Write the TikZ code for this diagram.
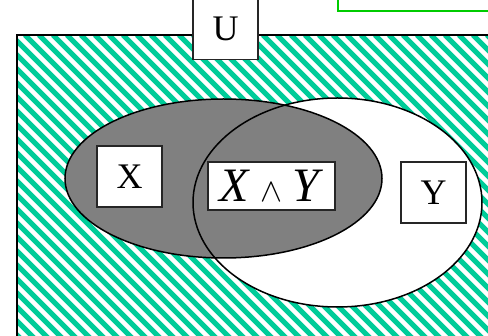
\documentclass[tikz,border=0pt]{standalone}
\usepackage{fix-cm}
\usepackage{fontspec}
\setmainfont{Liberation Serif}
\usepackage{tikz}
\usetikzlibrary{positioning}
\definecolor{hatchgreen}{RGB}{0,204,153}
\definecolor{boxgreen}{RGB}{0,204,0}
\tikzset{
  setbox/.style={draw=black!85, line width=1.3pt, fill=white, inner sep=0pt, font=\fontsize{36}{38}\selectfont},
  setline/.style={draw=black, line width=1.5pt},
  hatchline/.style={hatchgreen, line width=5pt}
}
\begin{document}
\begin{tikzpicture}[x=1pt, y=-1pt]
            % picture frame (pixels, y down)
            \useasboundingbox (0,0) rectangle (488,336);
            \clip (0,0) rectangle (488,336);
            \fill[white] (0,0) rectangle (488,336);

            % --- UNIVERSE ---
            % hatched area
            \begin{scope}
              \clip (17,35) rectangle (495,345);
              \foreach \c in {-437,-423,...,501}
                \draw[hatchline] (\c,35) -- ++(330,330);
            \end{scope}
            \draw[setline] (17,345) -- (17,35) -- (495,35);

            % --- SETS ---
            % Y first, then X on top of it
            \fill[white] (337.5,202.5) ellipse (144.5 and 104.5);
            \fill[gray] (223.5,178.5) ellipse (158.5 and 79.5);
            \draw[setline] (223.5,178.5) ellipse (158.5 and 79.5);
            \draw[setline] (337.5,202.5) ellipse (144.5 and 104.5);

            % Labels
            \node[setbox, minimum width=65pt, minimum height=62pt] (u) at (225.5,28.5) {U};
            \node[setbox, minimum width=65pt, minimum height=61pt] (x) at (129.5,176.5) {X};
            \node[setbox, minimum width=65pt, minimum height=61pt] (y) at (433.5,192.5) {Y};
            \node[setbox, minimum width=127pt, minimum height=48pt,
                  font=\fontsize{48}{50}\selectfont] (xy) at (271.5,186)
                  {\textit{X}\hspace{11pt}{\fontsize{33}{35}\selectfont$\wedge$}\hspace{10pt}\textit{Y}};

            % box at the top edge
            \node[draw=boxgreen, line width=1.5pt, fill=white, minimum width=160pt,
                  minimum height=20pt, anchor=south west] (note) at (337,12) {};
        \end{tikzpicture}
\end{document}
